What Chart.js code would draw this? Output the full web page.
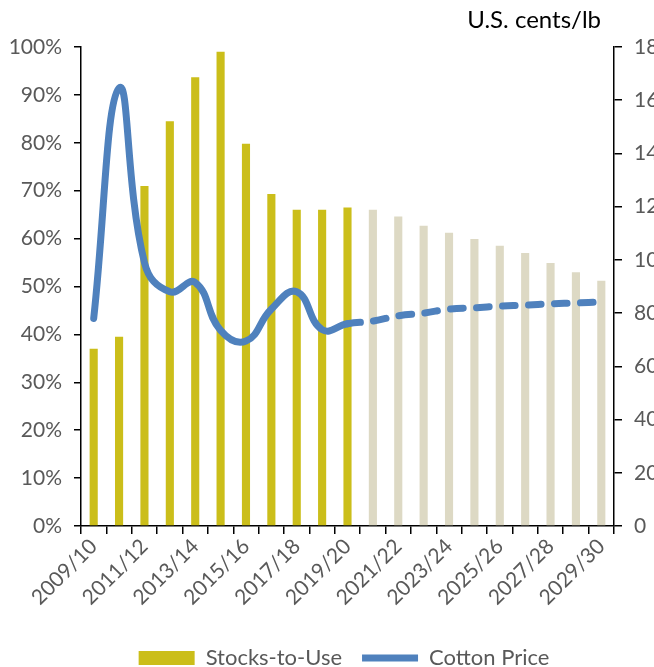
<!DOCTYPE html>
<html>
<head>
<meta charset="utf-8">
<script src="https://cdn.jsdelivr.net/npm/chart.js@4/dist/chart.umd.min.js"></script>
<style>
  html, body { margin: 0; padding: 0; background: #fff; overflow: hidden; }
  #wrap { position: relative; width: 688px; height: 679px; }
</style>
</head>
<body>
<div id="wrap"><canvas id="c"></canvas></div>
<script>
const categories = ['2009/10','2010/11','2011/12','2012/13','2013/14','2014/15','2015/16','2016/17','2017/18','2018/19','2019/20',
  '2020/21','2021/22','2022/23','2023/24','2024/25','2025/26','2026/27','2027/28','2028/29','2029/30'];
const stocksToUse = [37, 39.5, 71, 84.5, 93.7, 99, 79.8, 69.3, 66, 66, 66.5,
  66, 64.6, 62.7, 61.2, 59.9, 58.5, 57, 54.9, 53, 51.2];
const cottonPrice = [78, 164.6, 99, 88, 91.5, 73.5, 69.5, 81.5, 88, 73.8, 76,
  77, 79, 80, 81.5, 82, 82.6, 83, 83.5, 83.8, 84.2];
const leftTicks = [0,10,20,30,40,50,60,70,80,90,100];
const rightTicks = [0,20,40,60,80,100,120,140,160,180];
const lastActual = 10; // index of 2019/20

const FONT = 'Lato';
const GRAY = '#595959';
const YELLOW = '#CBBE1A';
const BEIGE = '#DDD9C4';
const BLUE = '#4F81BD';

const unitLabel = {
  id: 'unitLabel',
  afterDraw(chart) {
    const ctx = chart.ctx;
    const s = chart.scales.y1;
    ctx.save();
    ctx.font = '24px ' + FONT;
    ctx.fillStyle = '#000';
    ctx.textAlign = 'right';
    ctx.textBaseline = 'middle';
    ctx.fillText('U.S. cents/lb', s.left - 13, 20);
    ctx.restore();
  }
};

new Chart(document.getElementById('c'), {
  type: 'bar',
  data: {
    labels: categories,
    datasets: [
      {
        type: 'line',
        label: 'Cotton Price',
        data: cottonPrice,
        yAxisID: 'y1',
        borderColor: BLUE,
        backgroundColor: BLUE,
        borderWidth: 7,
        borderCapStyle: 'round',
        borderJoinStyle: 'round',
        pointRadius: 0,
        pointHoverRadius: 0,
        pointStyle: 'line',
        tension: 0.45,
        fill: false,
        order: 0,
        segment: {
          borderDash: ctx => ctx.p0DataIndex >= lastActual ? [13, 13] : undefined
        }
      },
      {
        type: 'bar',
        label: 'Stocks-to-Use',
        data: stocksToUse,
        yAxisID: 'y',
        backgroundColor: stocksToUse.map((v, i) => i <= lastActual ? YELLOW : BEIGE),
        borderWidth: 0,
        barPercentage: 0.32,
        categoryPercentage: 1.0,
        pointStyle: 'rect',
        order: 1
      }
    ]
  },
  options: {
    responsive: true,
    maintainAspectRatio: false,
    animation: false,
    layout: { padding: { top: 47, left: 0, right: 0, bottom: 0 } },
    plugins: {
      tooltip: { enabled: false },
      legend: {
        position: 'bottom',
        reverse: true,
        labels: {
          usePointStyle: true,
          pointStyleWidth: 56,
          boxHeight: 14,
          padding: 20,
          color: GRAY,
          font: { family: FONT, size: 22 }
        }
      }
    },
    scales: {
      x: {
        offset: true,
        afterFit: s => { s.height = 101; },
        grid: { display: true, drawOnChartArea: false, drawTicks: true, tickLength: 8, color: '#000', lineWidth: 1.5, offset: true },
        border: { display: true, color: '#000', width: 1.5 },
        ticks: {
          autoSkip: false,
          minRotation: 45,
          maxRotation: 45,
          color: GRAY,
          font: { family: FONT, size: 21 },
          padding: 0,
          callback: function(v, i) { return i % 2 === 0 ? categories[i] : ''; }
        }
      },
      y: {
        position: 'left',
        min: 0, max: 100,
        afterFit: s => { s.width = 81; },
        afterBuildTicks: s => { s.ticks = leftTicks.map(v => ({ value: v })); },
        grid: { drawOnChartArea: false, drawTicks: true, tickLength: 7, color: '#000', lineWidth: 1.5 },
        border: { display: true, color: '#000', width: 1.5 },
        ticks: {
          color: GRAY,
          font: { family: FONT, size: 21 },
          padding: 12,
          callback: v => v + '%'
        }
      },
      y1: {
        position: 'right',
        min: 0, max: 180,
        afterFit: s => { s.width = 74; },
        afterBuildTicks: s => { s.ticks = rightTicks.map(v => ({ value: v })); },
        grid: { drawOnChartArea: false, drawTicks: true, tickLength: 8, color: '#000', lineWidth: 1.5 },
        border: { display: true, color: '#000', width: 1.5 },
        ticks: {
          color: GRAY,
          font: { family: FONT, size: 21 },
          padding: 12
        }
      }
    }
  },
  plugins: [unitLabel]
});
</script>
</body>
</html>
